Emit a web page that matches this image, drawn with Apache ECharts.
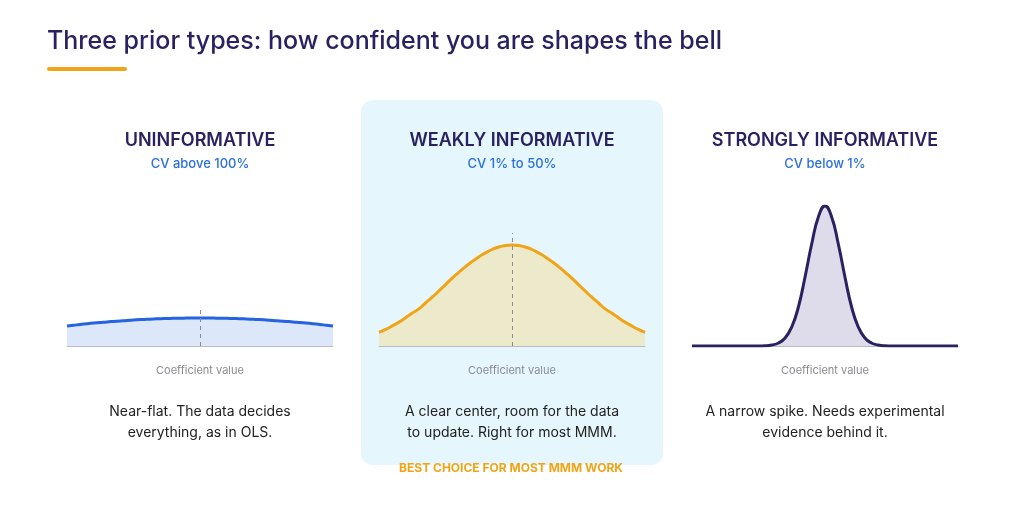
<!DOCTYPE html>
<html><head><meta charset="utf-8">
<script src="https://cdn.jsdelivr.net/npm/echarts@6/dist/echarts.min.js"></script>
<style>html,body{margin:0;padding:0;background:#fff}#c{width:1024px;height:519px}</style>
</head><body><div id="c"></div>
<script>
const xs = [-4,-3.8,-3.6,-3.4,-3.2,-3,-2.8,-2.6,-2.4,-2.2,-2,-1.8,-1.6,-1.4,-1.2,-1,-0.8,-0.6,-0.4,-0.2,0,0.2,0.4,0.6,0.8,1,1.2,1.4,1.6,1.8,2,2.2,2.4,2.6,2.8,3,3.2,3.4,3.6,3.8,4];
const uninformative = [20,20.8,21.6,22.3,22.9,23.5,24.1,24.6,25.1,25.6,26,26.4,26.7,27,27.3,27.5,27.7,27.8,27.9,28,28,28,27.9,27.8,27.7,27.5,27.3,27,26.7,26.4,26,25.6,25.1,24.6,24.1,23.5,22.9,22.3,21.6,20.8,20];
const weakly = [13.7,16.6,20.1,23.9,28.3,32.9,37.1,43,48.8,55,61.3,67.9,73.7,79.3,84.5,89.1,93.1,96.5,99,100.5,101,100.5,99,96.5,93.1,89.1,84.5,79.3,73.7,67.9,61.3,55,48.8,43,37.1,32.9,28.3,23.9,20.1,16.6,13.7];
const strongly = [0,0,0,0,0,0,0,0,0,0,0,0.2,1,3,8,19,39,69,102,129,140,129,102,69,39,19,8,3,1,0.2,0,0,0,0,0,0,0,0,0,0,0];
const headings = ['UNINFORMATIVE','WEAKLY INFORMATIVE','STRONGLY INFORMATIVE'];
const subtitles = ['CV above 100%','CV 1% to 50%','CV below 1%'];
const descriptions = [['Near-flat. The data decides','everything, as in OLS.'],['A clear center, room for the data','to update. Right for most MMM.'],['A narrow spike. Needs experimental','evidence behind it.']];
const peaks = [28,101,140];

const chart = echarts.init(document.getElementById('c'));
const FONT = 'Inter, "Noto Sans", sans-serif';
const series = [uninformative, weakly, strongly];
const lineColors = ['#2563e0','#f0a418','#2a2160'];
const fillColors = ['#dce7fa','#ede9cb','#dedcea'];
const lefts = [67,379,692];
const centers = [200,512,825];
const grids = [], xAxes = [], yAxes = [], ser = [];
series.forEach((s,i)=>{
  grids.push({left:lefts[i], top:206, width:266, height:140});
  xAxes.push({type:'value', gridIndex:i, min:-4, max:4, axisLine:{show:true, lineStyle:{color:'#b8bcc8',width:1}}, axisTick:{show:false}, axisLabel:{show:false}, splitLine:{show:false}});
  yAxes.push({type:'value', gridIndex:i, min:0, max:140, show:false});
  ser.push({type:'line', xAxisIndex:i, yAxisIndex:i, smooth:true, symbol:'none', data:xs.map((x,j)=>[x,s[j]]),
    lineStyle:{color:lineColors[i], width:3}, areaStyle:{color:fillColors[i], opacity:1},
    markLine:{silent:true, symbol:'none', label:{show:false}, lineStyle:{color:'#8a8a96', type:[4,4], width:1},
      data:[[{coord:[0,0]},{coord:[0,Math.min(peaks[i]+12,150)]}]]}, z:3});
});
const graphic = [
  {type:'rect', shape:{x:361,y:100,width:302,height:365,r:12}, style:{fill:'#e5f6fc'}, z:-10},
  {type:'text', left:47, top:29, style:{text:'Three prior types: how confident you are shapes the bell', font:'500 25px '+FONT, fill:'#2a2160'}},
  {type:'rect', shape:{x:47,y:67,width:80,height:4,r:2}, style:{fill:'#f0a418'}},
  {type:'text', x:511, y:468, style:{text:'BEST CHOICE FOR MOST MMM WORK', font:'bold 12px '+FONT, fill:'#f0a418', align:'center', verticalAlign:'middle'}}
];
centers.forEach((c,i)=>{
  graphic.push({type:'text', x:c, y:141, style:{text:headings[i], font:'600 18px '+FONT, fill:'#2a2160', align:'center', verticalAlign:'middle'}});
  graphic.push({type:'text', x:c, y:164, style:{text:subtitles[i], font:'500 13px '+FONT, fill:'#2a6fdb', align:'center', verticalAlign:'middle'}});
  graphic.push({type:'text', x:c, y:371, style:{text:'Coefficient value', font:'11px '+FONT, fill:'#8a8a96', align:'center', verticalAlign:'middle'}});
  graphic.push({type:'text', x:c, y:412, style:{text:descriptions[i][0], font:'14px '+FONT, fill:'#222', align:'center', verticalAlign:'middle'}});
  graphic.push({type:'text', x:c, y:433, style:{text:descriptions[i][1], font:'14px '+FONT, fill:'#222', align:'center', verticalAlign:'middle'}});
});
chart.setOption({animation:false, grid:grids, xAxis:xAxes, yAxis:yAxes, series:ser, graphic:graphic});
</script></body></html>
